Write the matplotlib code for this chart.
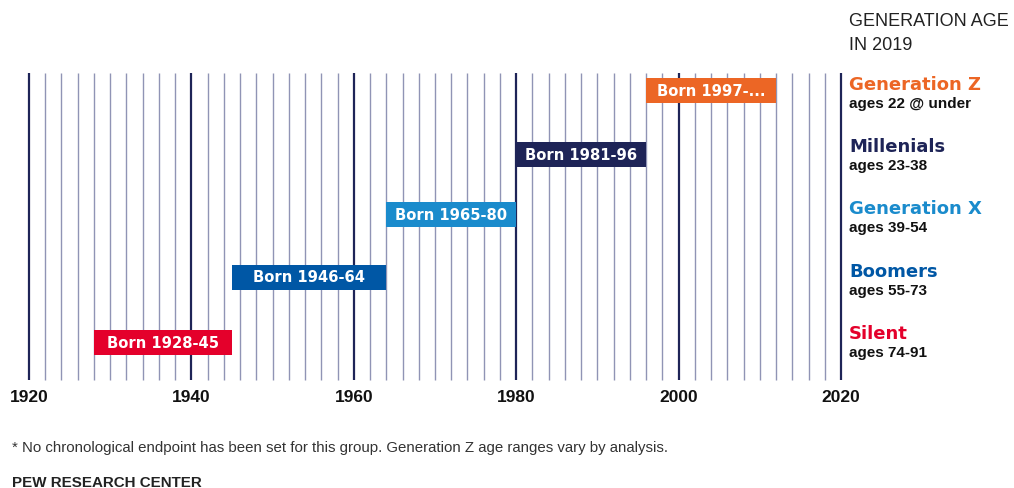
import matplotlib
matplotlib.use("Agg")
import matplotlib.pyplot as plt

# Generations (bottom to top on chart)
geracoes = ["Silent", "Boomers", "Generation X", "Millenials", "Generation Z"]
rotulos = ["Born 1928-45", "Born 1946-64", "Born 1965-80", "Born 1981-96", "Born 1997-..."]
idades = ["ages 74-91", "ages 55-73", "ages 39-54", "ages 23-38", "ages 22 @ under"]
inicio = [1928, 1945, 1964, 1980, 1996]
fim = [1945, 1964, 1980, 1996, 2012]
cores = ["#e4002b", "#0057a5", "#1a8bcc", "#1e2457", "#ec6625"]

anos = list(range(1920, 2021, 2))
anos_rotulo = [1920, 1940, 1960, 1980, 2000, 2020]

plt.rcParams['font.family'] = ['Liberation Sans', 'DejaVu Sans']

fig = plt.figure(figsize=(10.14, 4.88), dpi=100)
ax = fig.add_axes([0, 0, 1, 1])
# pixel layout: 1920 at x=29px, 2020 at x=841px
ppy = (841 - 29) / 100.0
ax.set_xlim(1920 - 29 / ppy, 1920 + (1014 - 29) / ppy)
ax.set_ylim(488, 0)
ax.axis("off")

# vertical grid lines
for a in anos:
    if a in anos_rotulo:
        ax.vlines(a, 73, 380, color="#1e2457", lw=1.6, zorder=1)
    else:
        ax.vlines(a, 73, 380, color="#9094b5", lw=1.0, zorder=1)

for a in anos_rotulo:
    ax.text(a, 397, str(a), ha="center", va="center", fontsize=12.5,
            fontweight="bold", color="#111111")

# bars
y_barras = [342, 277, 214, 154, 90]
for i in range(len(geracoes)):
    ax.barh(y_barras[i], fim[i] - inicio[i], left=inicio[i], height=25,
            color=cores[i], zorder=2)
    ax.text((inicio[i] + fim[i]) / 2.0, y_barras[i] + 1, rotulos[i],
            ha="center", va="center", fontsize=10.6, fontweight="bold",
            family="DejaVu Sans", color="white", zorder=3)

# right hand labels
x_dir = 1920 + (849 - 29) / ppy
y_tit = [334, 272, 209, 147, 85]
for i in range(len(geracoes)):
    ax.text(x_dir, y_tit[i], geracoes[i], ha="left", va="center",
            fontsize=13, fontweight="bold", family="DejaVu Sans",
            color=cores[i])
    ax.text(x_dir, y_tit[i] + 19, idades[i], ha="left", va="center",
            fontsize=11, fontweight="bold", color="#111111")

ax.text(x_dir, 21, "GENERATION AGE", ha="left", va="center", fontsize=13,
        color="#222222")
ax.text(x_dir, 45, "IN 2019", ha="left", va="center", fontsize=13,
        color="#222222")

x_esq = 1920 + (12 - 29) / ppy
ax.text(x_esq, 448, "* No chronological endpoint has been set for this group. "
        "Generation Z age ranges vary by analysis.", ha="left", va="center",
        fontsize=10.8, color="#333333")
ax.text(x_esq, 483, "PEW RESEARCH CENTER", ha="left", va="center",
        fontsize=10.9, fontweight="bold", color="#222222")

plt.savefig("out.png", dpi=100)
